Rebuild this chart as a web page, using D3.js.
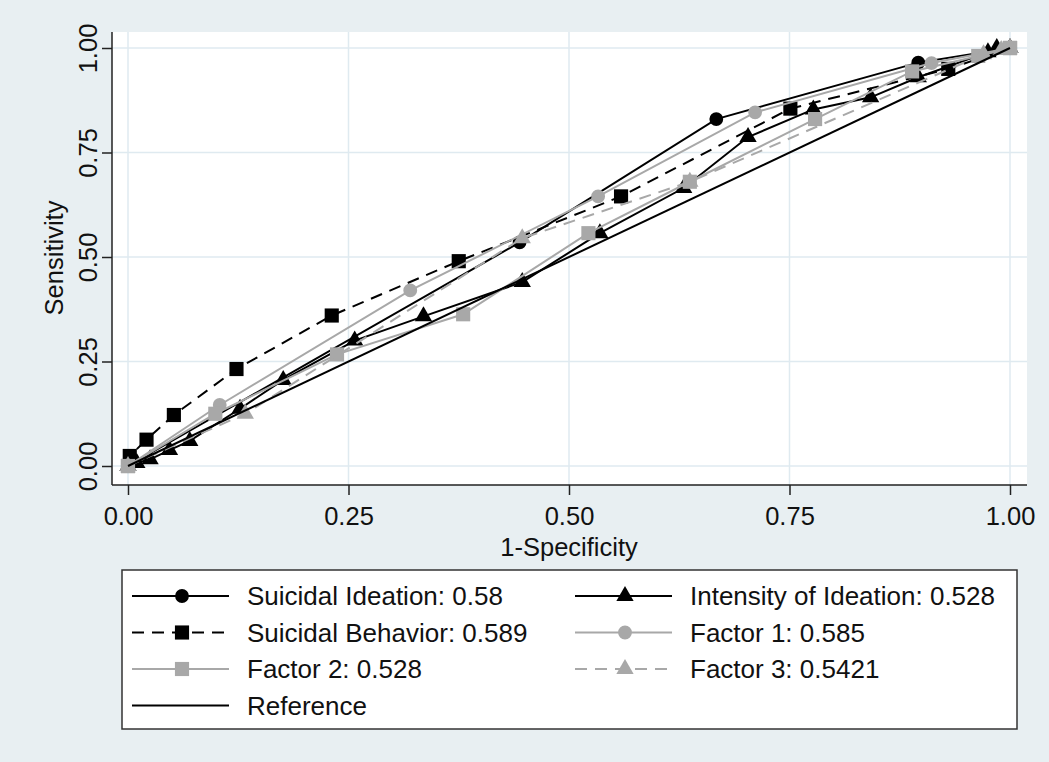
<!DOCTYPE html>
<html>
<head>
<meta charset="utf-8">
<script src="https://cdn.jsdelivr.net/npm/d3@7"></script>
<style>
  body { margin: 0; background: #e8eff2; }
  svg { display: block; font-family: "Liberation Sans", Arial, sans-serif; }
</style>
</head>
<body>
<script>
// tick values shared by both axes
const tickVals = [0, 0.25, 0.5, 0.75, 1];

// ROC points (1-specificity, sensitivity)
const ideationX = [0, 0.444, 0.667, 0.896, 1];
const ideationY = [0, 0.535, 0.83, 0.965, 1];

const intensityX = [0, 0.01, 0.025, 0.047, 0.07, 0.127, 0.176, 0.257, 0.335, 0.447, 0.535, 0.63, 0.703, 0.777, 0.842, 0.896, 0.975, 0.985, 1];
const intensityY = [0, 0.007, 0.016, 0.038, 0.06, 0.137, 0.206, 0.3, 0.358, 0.44, 0.557, 0.665, 0.787, 0.853, 0.882, 0.93, 0.99, 1, 1];

const behaviorX = [0, 0.002, 0.021, 0.052, 0.123, 0.231, 0.375, 0.559, 0.751, 0.93, 1];
const behaviorY = [0, 0.024, 0.063, 0.122, 0.232, 0.36, 0.49, 0.645, 0.855, 0.95, 1];

const factor1X = [0, 0.104, 0.32, 0.533, 0.711, 0.911, 1];
const factor1Y = [0, 0.146, 0.42, 0.645, 0.846, 0.964, 1];

const factor2X = [0, 0.099, 0.237, 0.38, 0.522, 0.637, 0.779, 0.889, 0.964, 1];
const factor2Y = [0, 0.125, 0.267, 0.363, 0.557, 0.68, 0.83, 0.944, 0.981, 1];

const factor3X = [0, 0.133, 0.447, 0.637, 0.97, 0.99, 1];
const factor3Y = [0, 0.125, 0.545, 0.68, 0.985, 0.995, 1];

const referenceX = [0, 1];
const referenceY = [0, 1];

const labels = ["Suicidal Ideation: 0.58", "Intensity of Ideation: 0.528",
  "Suicidal Behavior: 0.589", "Factor 1: 0.585", "Factor 2: 0.528",
  "Factor 3: 0.5421", "Reference"];

const BLACK = "#000", GRAY = "#a8a8a8";

// series in legend order (row by row, two columns)
const series = [
  {xs: ideationX, ys: ideationY, color: BLACK, dash: null, shape: "circle"},
  {xs: intensityX, ys: intensityY, color: BLACK, dash: null, shape: "triangle"},
  {xs: behaviorX, ys: behaviorY, color: BLACK, dash: "12,8", shape: "square"},
  {xs: factor1X, ys: factor1Y, color: GRAY, dash: null, shape: "circle"},
  {xs: factor2X, ys: factor2Y, color: GRAY, dash: null, shape: "square"},
  {xs: factor3X, ys: factor3Y, color: GRAY, dash: "12,8", shape: "triangle"},
  {xs: referenceX, ys: referenceY, color: BLACK, dash: null, shape: null}
];
series.forEach((s, i) => {
  s.label = labels[i];
  s.points = s.xs.map((x, j) => [x, s.ys[j]]);
});

const W = 1049, H = 762;
const svg = d3.select("body").append("svg").attr("width", W).attr("height", H);

svg.append("rect").attr("width", W).attr("height", H).attr("fill", "#e8eff2");

// plot region
const plot = {left: 112, right: 1027, top: 32, bottom: 485};
svg.append("rect")
  .attr("x", plot.left).attr("y", plot.top)
  .attr("width", plot.right - plot.left).attr("height", plot.bottom - plot.top)
  .attr("fill", "#fff");

const x = d3.scaleLinear().domain([0, 1]).range([128, 1010]);
const y = d3.scaleLinear().domain([0, 1]).range([466, 48]);

// grid
svg.append("g").selectAll("line").data(tickVals).enter().append("line")
  .attr("x1", plot.left).attr("x2", plot.right)
  .attr("y1", d => y(d)).attr("y2", d => y(d))
  .attr("stroke", "#dfeaf0").attr("stroke-width", 1.5);
svg.append("g").selectAll("line").data(tickVals).enter().append("line")
  .attr("y1", plot.top).attr("y2", plot.bottom)
  .attr("x1", d => x(d)).attr("x2", d => x(d))
  .attr("stroke", "#dfeaf0").attr("stroke-width", 1.5);

// axes
const xAxis = svg.append("g").attr("transform", `translate(0,${plot.bottom})`)
  .call(d3.axisBottom(x).tickValues(tickVals).tickFormat(d3.format(".2f")).tickSize(10).tickPadding(8));
const yAxis = svg.append("g").attr("transform", `translate(${plot.left},0)`)
  .call(d3.axisLeft(y).tickValues(tickVals).tickFormat(d3.format(".2f")).tickSize(10).tickPadding(8));

[xAxis, yAxis].forEach(a => {
  a.select(".domain").remove();
  a.selectAll(".tick line").attr("stroke", "#222").attr("stroke-width", 1.5);
  a.selectAll(".tick text").attr("font-size", 25.5).attr("fill", "#111")
    .attr("font-family", "Liberation Sans, Arial, sans-serif");
});
xAxis.selectAll(".tick text").attr("dy", "0.85em");
yAxis.selectAll(".tick text")
  .attr("text-anchor", "middle")
  .attr("x", null).attr("dy", null)
  .attr("transform", "translate(-24,0) rotate(-90)")
  .attr("y", 0).attr("dy", "0.35em");

// axis lines
svg.append("line").attr("x1", plot.left).attr("x2", plot.right)
  .attr("y1", plot.bottom).attr("y2", plot.bottom).attr("stroke", "#222").attr("stroke-width", 1.5);
svg.append("line").attr("x1", plot.left).attr("x2", plot.left)
  .attr("y1", plot.top).attr("y2", plot.bottom).attr("stroke", "#222").attr("stroke-width", 1.5);

svg.append("text").attr("x", 569).attr("y", 556).attr("text-anchor", "middle")
  .attr("font-size", 25.5).attr("fill", "#111").text("1-Specificity");
svg.append("text").attr("transform", "translate(63,258) rotate(-90)").attr("text-anchor", "middle")
  .attr("font-size", 25.5).attr("fill", "#111").text("Sensitivity");

// marker drawing
const symbolFor = {
  circle: d3.symbol(d3.symbolCircle, 150),
  square: d3.symbol(d3.symbolSquare, 200),
  triangle: d3.symbol(d3.symbolTriangle, 130)
};

const line = d3.line().x(d => x(d[0])).y(d => y(d[1]));
svg.append("clipPath").attr("id", "plotclip").append("rect")
  .attr("x", plot.left).attr("y", plot.top)
  .attr("width", plot.right - plot.left).attr("height", plot.bottom - plot.top);

const chart = svg.append("g").attr("clip-path", "url(#plotclip)");
series.forEach(s => {
  chart.append("path").datum(s.points)
    .attr("d", line).attr("fill", "none")
    .attr("stroke", s.color).attr("stroke-width", 2)
    .attr("stroke-dasharray", s.dash);
  if (s.shape) {
    chart.append("g").selectAll("path").data(s.points).enter().append("path")
      .attr("d", symbolFor[s.shape])
      .attr("transform", d => `translate(${x(d[0])},${y(d[1])})`)
      .attr("fill", s.color);
  }
});

// legend
const legend = svg.append("g");
legend.append("rect").attr("x", 122).attr("y", 570).attr("width", 895).attr("height", 159)
  .attr("fill", "#fff").attr("stroke", "#333").attr("stroke-width", 1.5);

const colX = [132, 575];
const rowY = d3.range(4).map(i => 596 + i * 36.5);
series.forEach((s, i) => {
  const cx = colX[i % 2], cy = rowY[Math.floor(i / 2)];
  const g = legend.append("g").attr("transform", `translate(${cx},${cy})`);
  g.append("line").attr("x1", 0).attr("x2", 97).attr("y1", 0).attr("y2", 0)
    .attr("stroke", s.color).attr("stroke-width", 2)
    .attr("stroke-dasharray", s.dash ? "12,8" : null);
  if (s.shape) {
    g.append("path").attr("d", symbolFor[s.shape]).attr("transform", "translate(50,0)")
      .attr("fill", s.color);
  }
  g.append("text").attr("x", 115).attr("y", 0).attr("dy", "0.35em")
    .attr("font-size", 26).attr("fill", "#111").text(s.label);
});
</script>
</body>
</html>
